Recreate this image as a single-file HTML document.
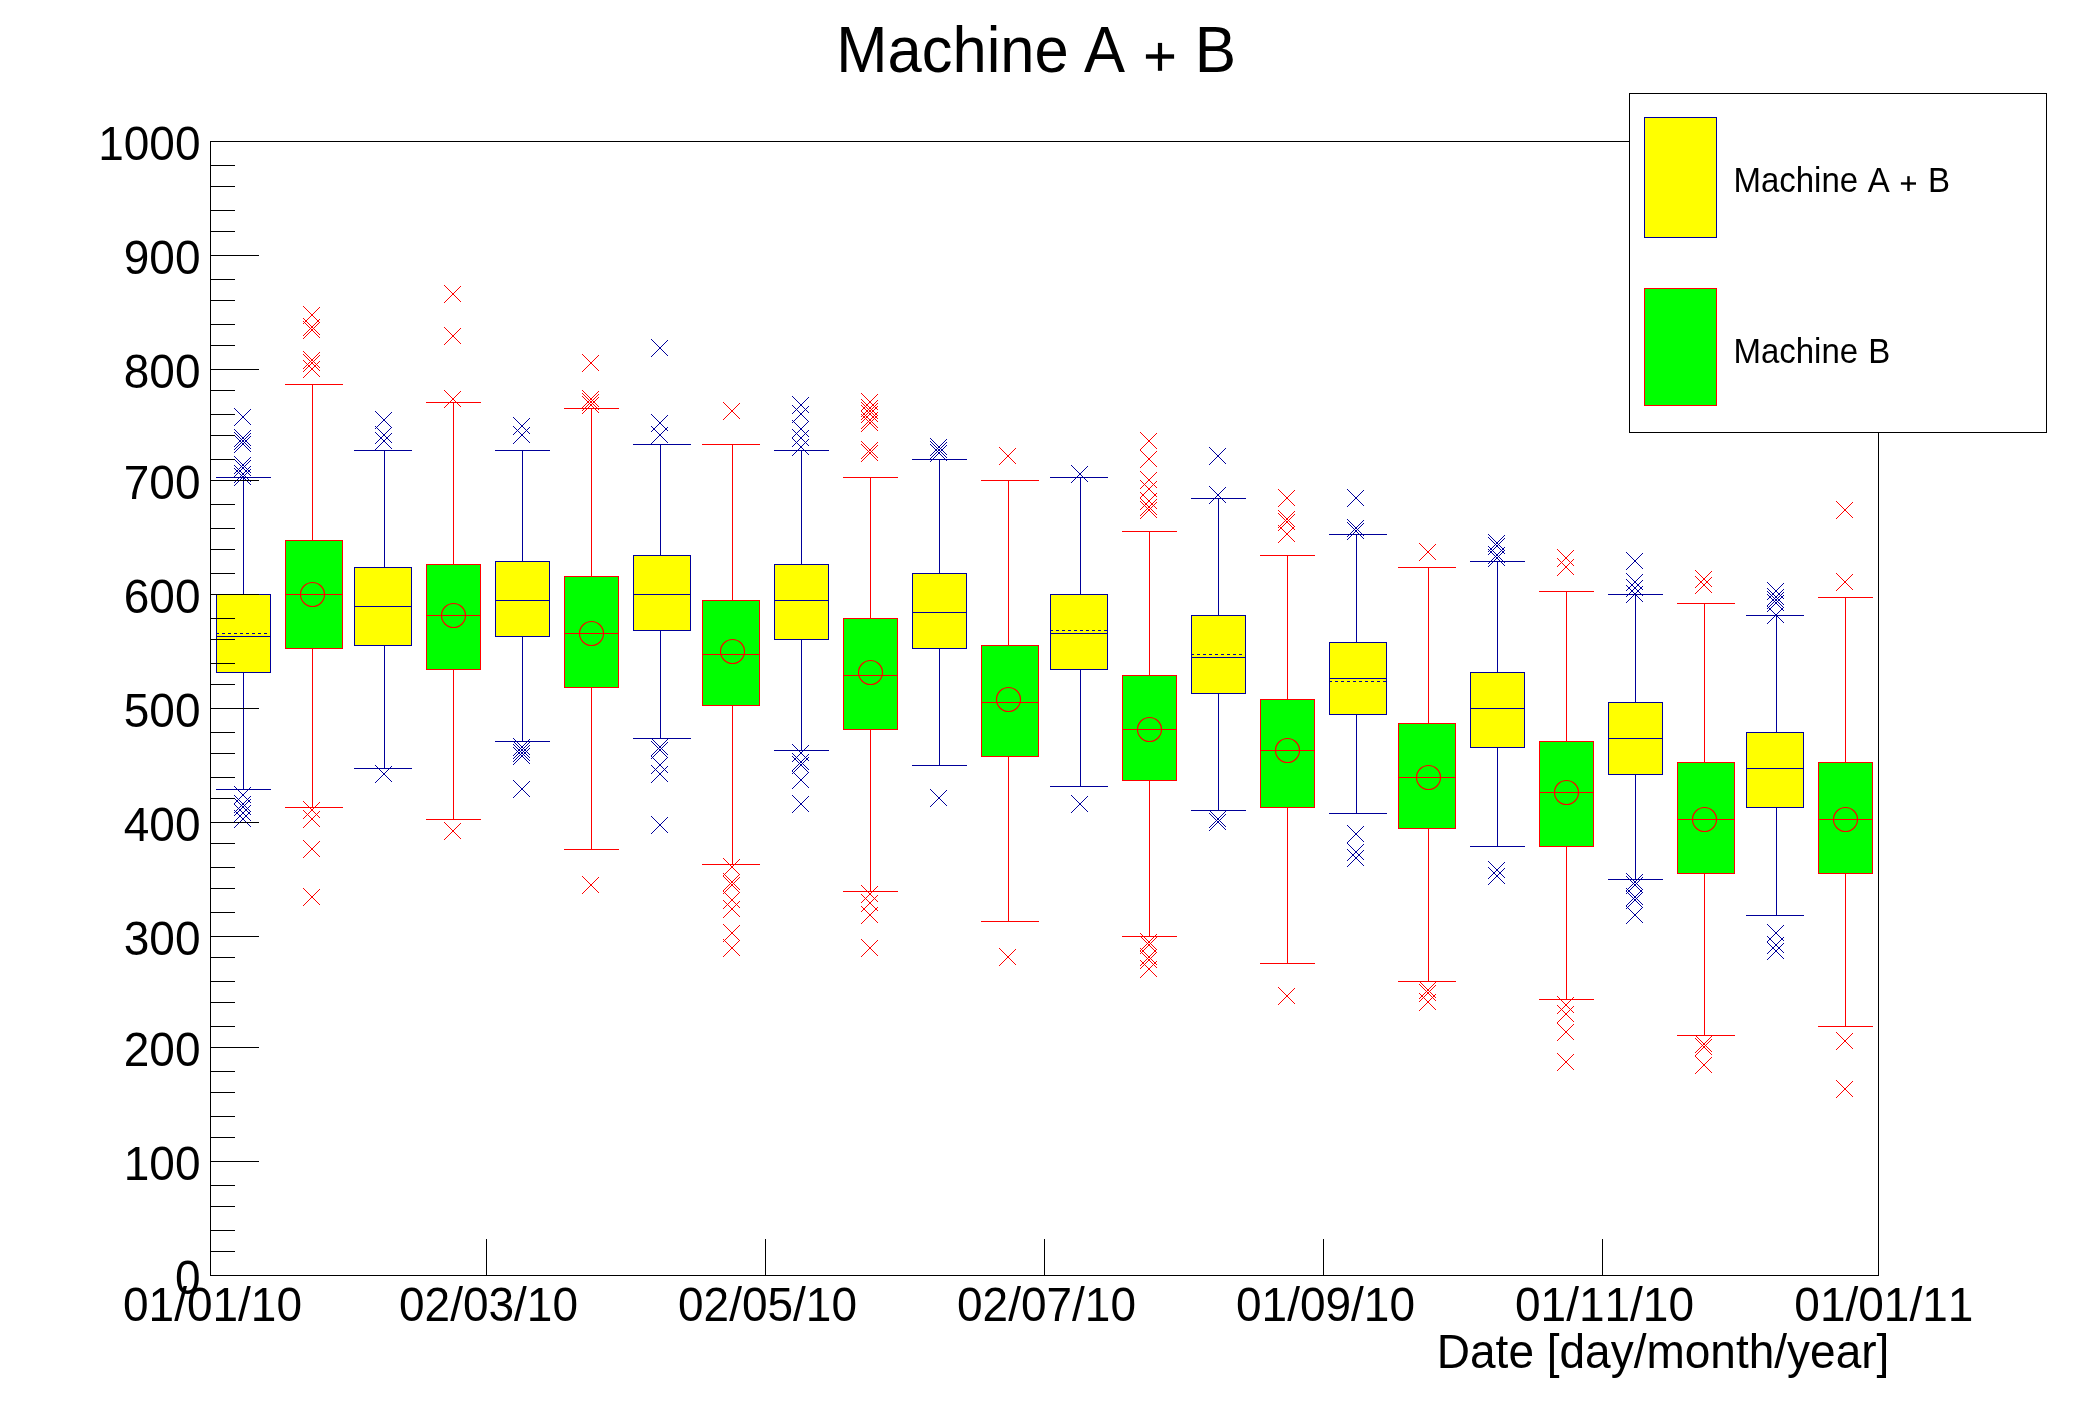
<!DOCTYPE html>
<html><head><meta charset="utf-8"><title>Machine A + B</title>
<style>
html,body{margin:0;padding:0;background:#ffffff;}
svg{display:block;}
text{font-family:"Liberation Sans",sans-serif;fill:#000000;font-kerning:none;font-feature-settings:"kern" 0;}
</style></head>
<body>
<svg width="2088" height="1416" viewBox="0 0 2088 1416">
<rect x="0" y="0" width="2088" height="1416" fill="#ffffff"/>
<g id="candles">
<rect x="216.5" y="594.5" width="54" height="78" fill="#ffff00" stroke="#000099" stroke-width="1" shape-rendering="crispEdges"/>
<rect x="216" y="636" width="55" height="1" fill="#000099"/>
<line x1="216" x2="270" y1="633.5" y2="633.5" stroke="#000099" stroke-width="1" stroke-dasharray="3 3" shape-rendering="crispEdges"/>
<rect x="243" y="477" width="1" height="118" fill="#000099"/>
<rect x="243" y="672" width="1" height="118" fill="#000099"/>
<rect x="216" y="477" width="55" height="1" fill="#000099"/>
<rect x="216" y="789" width="55" height="1" fill="#000099"/>
<path d="M234.0 408.0L251.0 425.0M234.0 426.0L251.0 409.0" stroke="#000099" stroke-width="1" fill="none"/>
<path d="M234.0 429.0L251.0 446.0M234.0 447.0L251.0 430.0" stroke="#000099" stroke-width="1" fill="none"/>
<path d="M234.0 432.0L251.0 449.0M234.0 450.0L251.0 433.0" stroke="#000099" stroke-width="1" fill="none"/>
<path d="M234.0 435.0L251.0 452.0M234.0 453.0L251.0 436.0" stroke="#000099" stroke-width="1" fill="none"/>
<path d="M234.0 456.0L251.0 473.0M234.0 474.0L251.0 457.0" stroke="#000099" stroke-width="1" fill="none"/>
<path d="M234.0 459.0L251.0 476.0M234.0 477.0L251.0 460.0" stroke="#000099" stroke-width="1" fill="none"/>
<path d="M234.0 465.0L251.0 482.0M234.0 483.0L251.0 466.0" stroke="#000099" stroke-width="1" fill="none"/>
<path d="M234.0 468.0L251.0 485.0M234.0 486.0L251.0 469.0" stroke="#000099" stroke-width="1" fill="none"/>
<path d="M234.0 786.0L251.0 803.0M234.0 804.0L251.0 787.0" stroke="#000099" stroke-width="1" fill="none"/>
<path d="M234.0 795.0L251.0 812.0M234.0 813.0L251.0 796.0" stroke="#000099" stroke-width="1" fill="none"/>
<path d="M234.0 798.0L251.0 815.0M234.0 816.0L251.0 799.0" stroke="#000099" stroke-width="1" fill="none"/>
<path d="M234.0 804.0L251.0 821.0M234.0 822.0L251.0 805.0" stroke="#000099" stroke-width="1" fill="none"/>
<path d="M234.0 810.0L251.0 827.0M234.0 828.0L251.0 811.0" stroke="#000099" stroke-width="1" fill="none"/>
<rect x="354.5" y="567.5" width="57" height="78" fill="#ffff00" stroke="#000099" stroke-width="1" shape-rendering="crispEdges"/>
<rect x="354" y="606" width="58" height="1" fill="#000099"/>
<rect x="384" y="450" width="1" height="118" fill="#000099"/>
<rect x="384" y="645" width="1" height="124" fill="#000099"/>
<rect x="354" y="450" width="58" height="1" fill="#000099"/>
<rect x="354" y="768" width="58" height="1" fill="#000099"/>
<path d="M375.0 411.0L392.0 428.0M375.0 429.0L392.0 412.0" stroke="#000099" stroke-width="1" fill="none"/>
<path d="M375.0 426.0L392.0 443.0M375.0 444.0L392.0 427.0" stroke="#000099" stroke-width="1" fill="none"/>
<path d="M375.0 432.0L392.0 449.0M375.0 450.0L392.0 433.0" stroke="#000099" stroke-width="1" fill="none"/>
<path d="M375.0 765.0L392.0 782.0M375.0 783.0L392.0 766.0" stroke="#000099" stroke-width="1" fill="none"/>
<rect x="495.5" y="561.5" width="54" height="75" fill="#ffff00" stroke="#000099" stroke-width="1" shape-rendering="crispEdges"/>
<rect x="495" y="600" width="55" height="1" fill="#000099"/>
<rect x="522" y="450" width="1" height="112" fill="#000099"/>
<rect x="522" y="636" width="1" height="106" fill="#000099"/>
<rect x="495" y="450" width="55" height="1" fill="#000099"/>
<rect x="495" y="741" width="55" height="1" fill="#000099"/>
<path d="M513.0 417.0L530.0 434.0M513.0 435.0L530.0 418.0" stroke="#000099" stroke-width="1" fill="none"/>
<path d="M513.0 426.0L530.0 443.0M513.0 444.0L530.0 427.0" stroke="#000099" stroke-width="1" fill="none"/>
<path d="M513.0 738.0L530.0 755.0M513.0 756.0L530.0 739.0" stroke="#000099" stroke-width="1" fill="none"/>
<path d="M513.0 741.0L530.0 758.0M513.0 759.0L530.0 742.0" stroke="#000099" stroke-width="1" fill="none"/>
<path d="M513.0 744.0L530.0 761.0M513.0 762.0L530.0 745.0" stroke="#000099" stroke-width="1" fill="none"/>
<path d="M513.0 747.0L530.0 764.0M513.0 765.0L530.0 748.0" stroke="#000099" stroke-width="1" fill="none"/>
<path d="M513.0 780.0L530.0 797.0M513.0 798.0L530.0 781.0" stroke="#000099" stroke-width="1" fill="none"/>
<rect x="633.5" y="555.5" width="57" height="75" fill="#ffff00" stroke="#000099" stroke-width="1" shape-rendering="crispEdges"/>
<rect x="633" y="594" width="58" height="1" fill="#000099"/>
<rect x="660" y="444" width="1" height="112" fill="#000099"/>
<rect x="660" y="630" width="1" height="109" fill="#000099"/>
<rect x="633" y="444" width="58" height="1" fill="#000099"/>
<rect x="633" y="738" width="58" height="1" fill="#000099"/>
<path d="M651.0 339.0L668.0 356.0M651.0 357.0L668.0 340.0" stroke="#000099" stroke-width="1" fill="none"/>
<path d="M651.0 414.0L668.0 431.0M651.0 432.0L668.0 415.0" stroke="#000099" stroke-width="1" fill="none"/>
<path d="M651.0 426.0L668.0 443.0M651.0 444.0L668.0 427.0" stroke="#000099" stroke-width="1" fill="none"/>
<path d="M651.0 738.0L668.0 755.0M651.0 756.0L668.0 739.0" stroke="#000099" stroke-width="1" fill="none"/>
<path d="M651.0 741.0L668.0 758.0M651.0 759.0L668.0 742.0" stroke="#000099" stroke-width="1" fill="none"/>
<path d="M651.0 756.0L668.0 773.0M651.0 774.0L668.0 757.0" stroke="#000099" stroke-width="1" fill="none"/>
<path d="M651.0 765.0L668.0 782.0M651.0 783.0L668.0 766.0" stroke="#000099" stroke-width="1" fill="none"/>
<path d="M651.0 816.0L668.0 833.0M651.0 834.0L668.0 817.0" stroke="#000099" stroke-width="1" fill="none"/>
<rect x="774.5" y="564.5" width="54" height="75" fill="#ffff00" stroke="#000099" stroke-width="1" shape-rendering="crispEdges"/>
<rect x="774" y="600" width="55" height="1" fill="#000099"/>
<rect x="801" y="450" width="1" height="115" fill="#000099"/>
<rect x="801" y="639" width="1" height="112" fill="#000099"/>
<rect x="774" y="450" width="55" height="1" fill="#000099"/>
<rect x="774" y="750" width="55" height="1" fill="#000099"/>
<path d="M792.0 396.0L809.0 413.0M792.0 414.0L809.0 397.0" stroke="#000099" stroke-width="1" fill="none"/>
<path d="M792.0 405.0L809.0 422.0M792.0 423.0L809.0 406.0" stroke="#000099" stroke-width="1" fill="none"/>
<path d="M792.0 420.0L809.0 437.0M792.0 438.0L809.0 421.0" stroke="#000099" stroke-width="1" fill="none"/>
<path d="M792.0 429.0L809.0 446.0M792.0 447.0L809.0 430.0" stroke="#000099" stroke-width="1" fill="none"/>
<path d="M792.0 438.0L809.0 455.0M792.0 456.0L809.0 439.0" stroke="#000099" stroke-width="1" fill="none"/>
<path d="M792.0 744.0L809.0 761.0M792.0 762.0L809.0 745.0" stroke="#000099" stroke-width="1" fill="none"/>
<path d="M792.0 753.0L809.0 770.0M792.0 771.0L809.0 754.0" stroke="#000099" stroke-width="1" fill="none"/>
<path d="M792.0 756.0L809.0 773.0M792.0 774.0L809.0 757.0" stroke="#000099" stroke-width="1" fill="none"/>
<path d="M792.0 771.0L809.0 788.0M792.0 789.0L809.0 772.0" stroke="#000099" stroke-width="1" fill="none"/>
<path d="M792.0 795.0L809.0 812.0M792.0 813.0L809.0 796.0" stroke="#000099" stroke-width="1" fill="none"/>
<rect x="912.5" y="573.5" width="54" height="75" fill="#ffff00" stroke="#000099" stroke-width="1" shape-rendering="crispEdges"/>
<rect x="912" y="612" width="55" height="1" fill="#000099"/>
<rect x="939" y="459" width="1" height="115" fill="#000099"/>
<rect x="939" y="648" width="1" height="118" fill="#000099"/>
<rect x="912" y="459" width="55" height="1" fill="#000099"/>
<rect x="912" y="765" width="55" height="1" fill="#000099"/>
<path d="M930.0 438.0L947.0 455.0M930.0 456.0L947.0 439.0" stroke="#000099" stroke-width="1" fill="none"/>
<path d="M930.0 441.0L947.0 458.0M930.0 459.0L947.0 442.0" stroke="#000099" stroke-width="1" fill="none"/>
<path d="M930.0 444.0L947.0 461.0M930.0 462.0L947.0 445.0" stroke="#000099" stroke-width="1" fill="none"/>
<path d="M930.0 789.0L947.0 806.0M930.0 807.0L947.0 790.0" stroke="#000099" stroke-width="1" fill="none"/>
<rect x="1050.5" y="594.5" width="57" height="75" fill="#ffff00" stroke="#000099" stroke-width="1" shape-rendering="crispEdges"/>
<rect x="1050" y="633" width="58" height="1" fill="#000099"/>
<line x1="1050" x2="1107" y1="630.5" y2="630.5" stroke="#000099" stroke-width="1" stroke-dasharray="3 3" shape-rendering="crispEdges"/>
<rect x="1080" y="477" width="1" height="118" fill="#000099"/>
<rect x="1080" y="669" width="1" height="118" fill="#000099"/>
<rect x="1050" y="477" width="58" height="1" fill="#000099"/>
<rect x="1050" y="786" width="58" height="1" fill="#000099"/>
<path d="M1071.0 465.0L1088.0 482.0M1071.0 483.0L1088.0 466.0" stroke="#000099" stroke-width="1" fill="none"/>
<path d="M1071.0 795.0L1088.0 812.0M1071.0 813.0L1088.0 796.0" stroke="#000099" stroke-width="1" fill="none"/>
<rect x="1191.5" y="615.5" width="54" height="78" fill="#ffff00" stroke="#000099" stroke-width="1" shape-rendering="crispEdges"/>
<rect x="1191" y="657" width="55" height="1" fill="#000099"/>
<line x1="1191" x2="1245" y1="654.5" y2="654.5" stroke="#000099" stroke-width="1" stroke-dasharray="3 3" shape-rendering="crispEdges"/>
<rect x="1218" y="498" width="1" height="118" fill="#000099"/>
<rect x="1218" y="693" width="1" height="118" fill="#000099"/>
<rect x="1191" y="498" width="55" height="1" fill="#000099"/>
<rect x="1191" y="810" width="55" height="1" fill="#000099"/>
<path d="M1209.0 447.0L1226.0 464.0M1209.0 465.0L1226.0 448.0" stroke="#000099" stroke-width="1" fill="none"/>
<path d="M1209.0 486.0L1226.0 503.0M1209.0 504.0L1226.0 487.0" stroke="#000099" stroke-width="1" fill="none"/>
<path d="M1209.0 810.0L1226.0 827.0M1209.0 828.0L1226.0 811.0" stroke="#000099" stroke-width="1" fill="none"/>
<path d="M1209.0 813.0L1226.0 830.0M1209.0 831.0L1226.0 814.0" stroke="#000099" stroke-width="1" fill="none"/>
<rect x="1329.5" y="642.5" width="57" height="72" fill="#ffff00" stroke="#000099" stroke-width="1" shape-rendering="crispEdges"/>
<rect x="1329" y="678" width="58" height="1" fill="#000099"/>
<line x1="1329" x2="1386" y1="681.5" y2="681.5" stroke="#000099" stroke-width="1" stroke-dasharray="3 3" shape-rendering="crispEdges"/>
<rect x="1356" y="534" width="1" height="109" fill="#000099"/>
<rect x="1356" y="714" width="1" height="100" fill="#000099"/>
<rect x="1329" y="534" width="58" height="1" fill="#000099"/>
<rect x="1329" y="813" width="58" height="1" fill="#000099"/>
<path d="M1347.0 489.0L1364.0 506.0M1347.0 507.0L1364.0 490.0" stroke="#000099" stroke-width="1" fill="none"/>
<path d="M1347.0 519.0L1364.0 536.0M1347.0 537.0L1364.0 520.0" stroke="#000099" stroke-width="1" fill="none"/>
<path d="M1347.0 522.0L1364.0 539.0M1347.0 540.0L1364.0 523.0" stroke="#000099" stroke-width="1" fill="none"/>
<path d="M1347.0 825.0L1364.0 842.0M1347.0 843.0L1364.0 826.0" stroke="#000099" stroke-width="1" fill="none"/>
<path d="M1347.0 843.0L1364.0 860.0M1347.0 861.0L1364.0 844.0" stroke="#000099" stroke-width="1" fill="none"/>
<path d="M1347.0 849.0L1364.0 866.0M1347.0 867.0L1364.0 850.0" stroke="#000099" stroke-width="1" fill="none"/>
<rect x="1470.5" y="672.5" width="54" height="75" fill="#ffff00" stroke="#000099" stroke-width="1" shape-rendering="crispEdges"/>
<rect x="1470" y="708" width="55" height="1" fill="#000099"/>
<rect x="1497" y="561" width="1" height="112" fill="#000099"/>
<rect x="1497" y="747" width="1" height="100" fill="#000099"/>
<rect x="1470" y="561" width="55" height="1" fill="#000099"/>
<rect x="1470" y="846" width="55" height="1" fill="#000099"/>
<path d="M1488.0 534.0L1505.0 551.0M1488.0 552.0L1505.0 535.0" stroke="#000099" stroke-width="1" fill="none"/>
<path d="M1488.0 537.0L1505.0 554.0M1488.0 555.0L1505.0 538.0" stroke="#000099" stroke-width="1" fill="none"/>
<path d="M1488.0 546.0L1505.0 563.0M1488.0 564.0L1505.0 547.0" stroke="#000099" stroke-width="1" fill="none"/>
<path d="M1488.0 549.0L1505.0 566.0M1488.0 567.0L1505.0 550.0" stroke="#000099" stroke-width="1" fill="none"/>
<path d="M1488.0 861.0L1505.0 878.0M1488.0 879.0L1505.0 862.0" stroke="#000099" stroke-width="1" fill="none"/>
<path d="M1488.0 867.0L1505.0 884.0M1488.0 885.0L1505.0 868.0" stroke="#000099" stroke-width="1" fill="none"/>
<rect x="1608.5" y="702.5" width="54" height="72" fill="#ffff00" stroke="#000099" stroke-width="1" shape-rendering="crispEdges"/>
<rect x="1608" y="738" width="55" height="1" fill="#000099"/>
<rect x="1635" y="594" width="1" height="109" fill="#000099"/>
<rect x="1635" y="774" width="1" height="106" fill="#000099"/>
<rect x="1608" y="594" width="55" height="1" fill="#000099"/>
<rect x="1608" y="879" width="55" height="1" fill="#000099"/>
<path d="M1626.0 552.0L1643.0 569.0M1626.0 570.0L1643.0 553.0" stroke="#000099" stroke-width="1" fill="none"/>
<path d="M1626.0 573.0L1643.0 590.0M1626.0 591.0L1643.0 574.0" stroke="#000099" stroke-width="1" fill="none"/>
<path d="M1626.0 579.0L1643.0 596.0M1626.0 597.0L1643.0 580.0" stroke="#000099" stroke-width="1" fill="none"/>
<path d="M1626.0 585.0L1643.0 602.0M1626.0 603.0L1643.0 586.0" stroke="#000099" stroke-width="1" fill="none"/>
<path d="M1626.0 873.0L1643.0 890.0M1626.0 891.0L1643.0 874.0" stroke="#000099" stroke-width="1" fill="none"/>
<path d="M1626.0 876.0L1643.0 893.0M1626.0 894.0L1643.0 877.0" stroke="#000099" stroke-width="1" fill="none"/>
<path d="M1626.0 888.0L1643.0 905.0M1626.0 906.0L1643.0 889.0" stroke="#000099" stroke-width="1" fill="none"/>
<path d="M1626.0 891.0L1643.0 908.0M1626.0 909.0L1643.0 892.0" stroke="#000099" stroke-width="1" fill="none"/>
<path d="M1626.0 906.0L1643.0 923.0M1626.0 924.0L1643.0 907.0" stroke="#000099" stroke-width="1" fill="none"/>
<rect x="1746.5" y="732.5" width="57" height="75" fill="#ffff00" stroke="#000099" stroke-width="1" shape-rendering="crispEdges"/>
<rect x="1746" y="768" width="58" height="1" fill="#000099"/>
<rect x="1776" y="615" width="1" height="118" fill="#000099"/>
<rect x="1776" y="807" width="1" height="109" fill="#000099"/>
<rect x="1746" y="615" width="58" height="1" fill="#000099"/>
<rect x="1746" y="915" width="58" height="1" fill="#000099"/>
<path d="M1767.0 582.0L1784.0 599.0M1767.0 600.0L1784.0 583.0" stroke="#000099" stroke-width="1" fill="none"/>
<path d="M1767.0 588.0L1784.0 605.0M1767.0 606.0L1784.0 589.0" stroke="#000099" stroke-width="1" fill="none"/>
<path d="M1767.0 591.0L1784.0 608.0M1767.0 609.0L1784.0 592.0" stroke="#000099" stroke-width="1" fill="none"/>
<path d="M1767.0 594.0L1784.0 611.0M1767.0 612.0L1784.0 595.0" stroke="#000099" stroke-width="1" fill="none"/>
<path d="M1767.0 606.0L1784.0 623.0M1767.0 624.0L1784.0 607.0" stroke="#000099" stroke-width="1" fill="none"/>
<path d="M1767.0 924.0L1784.0 941.0M1767.0 942.0L1784.0 925.0" stroke="#000099" stroke-width="1" fill="none"/>
<path d="M1767.0 936.0L1784.0 953.0M1767.0 954.0L1784.0 937.0" stroke="#000099" stroke-width="1" fill="none"/>
<path d="M1767.0 942.0L1784.0 959.0M1767.0 960.0L1784.0 943.0" stroke="#000099" stroke-width="1" fill="none"/>
<rect x="285.5" y="540.5" width="57" height="108" fill="#00ff00" stroke="#ff0000" stroke-width="1" shape-rendering="crispEdges"/>
<rect x="285" y="594" width="58" height="1" fill="#ff0000"/>
<circle cx="312.5" cy="594.5" r="12" fill="none" stroke="#ff0000" stroke-width="1.15"/>
<rect x="312" y="384" width="1" height="157" fill="#ff0000"/>
<rect x="312" y="648" width="1" height="160" fill="#ff0000"/>
<rect x="285" y="384" width="58" height="1" fill="#ff0000"/>
<rect x="285" y="807" width="58" height="1" fill="#ff0000"/>
<path d="M303.0 306.0L320.0 323.0M303.0 324.0L320.0 307.0" stroke="#ff0000" stroke-width="1" fill="none"/>
<path d="M303.0 318.0L320.0 335.0M303.0 336.0L320.0 319.0" stroke="#ff0000" stroke-width="1" fill="none"/>
<path d="M303.0 321.0L320.0 338.0M303.0 339.0L320.0 322.0" stroke="#ff0000" stroke-width="1" fill="none"/>
<path d="M303.0 351.0L320.0 368.0M303.0 369.0L320.0 352.0" stroke="#ff0000" stroke-width="1" fill="none"/>
<path d="M303.0 354.0L320.0 371.0M303.0 372.0L320.0 355.0" stroke="#ff0000" stroke-width="1" fill="none"/>
<path d="M303.0 360.0L320.0 377.0M303.0 378.0L320.0 361.0" stroke="#ff0000" stroke-width="1" fill="none"/>
<path d="M303.0 801.0L320.0 818.0M303.0 819.0L320.0 802.0" stroke="#ff0000" stroke-width="1" fill="none"/>
<path d="M303.0 810.0L320.0 827.0M303.0 828.0L320.0 811.0" stroke="#ff0000" stroke-width="1" fill="none"/>
<path d="M303.0 840.0L320.0 857.0M303.0 858.0L320.0 841.0" stroke="#ff0000" stroke-width="1" fill="none"/>
<path d="M303.0 888.0L320.0 905.0M303.0 906.0L320.0 889.0" stroke="#ff0000" stroke-width="1" fill="none"/>
<rect x="426.5" y="564.5" width="54" height="105" fill="#00ff00" stroke="#ff0000" stroke-width="1" shape-rendering="crispEdges"/>
<rect x="426" y="615" width="55" height="1" fill="#ff0000"/>
<circle cx="453.5" cy="615.5" r="12" fill="none" stroke="#ff0000" stroke-width="1.15"/>
<rect x="453" y="402" width="1" height="163" fill="#ff0000"/>
<rect x="453" y="669" width="1" height="151" fill="#ff0000"/>
<rect x="426" y="402" width="55" height="1" fill="#ff0000"/>
<rect x="426" y="819" width="55" height="1" fill="#ff0000"/>
<path d="M444.0 285.0L461.0 302.0M444.0 303.0L461.0 286.0" stroke="#ff0000" stroke-width="1" fill="none"/>
<path d="M444.0 327.0L461.0 344.0M444.0 345.0L461.0 328.0" stroke="#ff0000" stroke-width="1" fill="none"/>
<path d="M444.0 390.0L461.0 407.0M444.0 408.0L461.0 391.0" stroke="#ff0000" stroke-width="1" fill="none"/>
<path d="M444.0 822.0L461.0 839.0M444.0 840.0L461.0 823.0" stroke="#ff0000" stroke-width="1" fill="none"/>
<rect x="564.5" y="576.5" width="54" height="111" fill="#00ff00" stroke="#ff0000" stroke-width="1" shape-rendering="crispEdges"/>
<rect x="564" y="633" width="55" height="1" fill="#ff0000"/>
<circle cx="591.5" cy="633.5" r="12" fill="none" stroke="#ff0000" stroke-width="1.15"/>
<rect x="591" y="408" width="1" height="169" fill="#ff0000"/>
<rect x="591" y="687" width="1" height="163" fill="#ff0000"/>
<rect x="564" y="408" width="55" height="1" fill="#ff0000"/>
<rect x="564" y="849" width="55" height="1" fill="#ff0000"/>
<path d="M582.0 354.0L599.0 371.0M582.0 372.0L599.0 355.0" stroke="#ff0000" stroke-width="1" fill="none"/>
<path d="M582.0 390.0L599.0 407.0M582.0 408.0L599.0 391.0" stroke="#ff0000" stroke-width="1" fill="none"/>
<path d="M582.0 393.0L599.0 410.0M582.0 411.0L599.0 394.0" stroke="#ff0000" stroke-width="1" fill="none"/>
<path d="M582.0 396.0L599.0 413.0M582.0 414.0L599.0 397.0" stroke="#ff0000" stroke-width="1" fill="none"/>
<path d="M582.0 876.0L599.0 893.0M582.0 894.0L599.0 877.0" stroke="#ff0000" stroke-width="1" fill="none"/>
<rect x="702.5" y="600.5" width="57" height="105" fill="#00ff00" stroke="#ff0000" stroke-width="1" shape-rendering="crispEdges"/>
<rect x="702" y="654" width="58" height="1" fill="#ff0000"/>
<circle cx="732.5" cy="651.5" r="12" fill="none" stroke="#ff0000" stroke-width="1.15"/>
<rect x="732" y="444" width="1" height="157" fill="#ff0000"/>
<rect x="732" y="705" width="1" height="160" fill="#ff0000"/>
<rect x="702" y="444" width="58" height="1" fill="#ff0000"/>
<rect x="702" y="864" width="58" height="1" fill="#ff0000"/>
<path d="M723.0 402.0L740.0 419.0M723.0 420.0L740.0 403.0" stroke="#ff0000" stroke-width="1" fill="none"/>
<path d="M723.0 858.0L740.0 875.0M723.0 876.0L740.0 859.0" stroke="#ff0000" stroke-width="1" fill="none"/>
<path d="M723.0 873.0L740.0 890.0M723.0 891.0L740.0 874.0" stroke="#ff0000" stroke-width="1" fill="none"/>
<path d="M723.0 876.0L740.0 893.0M723.0 894.0L740.0 877.0" stroke="#ff0000" stroke-width="1" fill="none"/>
<path d="M723.0 891.0L740.0 908.0M723.0 909.0L740.0 892.0" stroke="#ff0000" stroke-width="1" fill="none"/>
<path d="M723.0 900.0L740.0 917.0M723.0 918.0L740.0 901.0" stroke="#ff0000" stroke-width="1" fill="none"/>
<path d="M723.0 924.0L740.0 941.0M723.0 942.0L740.0 925.0" stroke="#ff0000" stroke-width="1" fill="none"/>
<path d="M723.0 939.0L740.0 956.0M723.0 957.0L740.0 940.0" stroke="#ff0000" stroke-width="1" fill="none"/>
<rect x="843.5" y="618.5" width="54" height="111" fill="#00ff00" stroke="#ff0000" stroke-width="1" shape-rendering="crispEdges"/>
<rect x="843" y="675" width="55" height="1" fill="#ff0000"/>
<circle cx="870.5" cy="672.5" r="12" fill="none" stroke="#ff0000" stroke-width="1.15"/>
<rect x="870" y="477" width="1" height="142" fill="#ff0000"/>
<rect x="870" y="729" width="1" height="163" fill="#ff0000"/>
<rect x="843" y="477" width="55" height="1" fill="#ff0000"/>
<rect x="843" y="891" width="55" height="1" fill="#ff0000"/>
<path d="M861.0 393.0L878.0 410.0M861.0 411.0L878.0 394.0" stroke="#ff0000" stroke-width="1" fill="none"/>
<path d="M861.0 399.0L878.0 416.0M861.0 417.0L878.0 400.0" stroke="#ff0000" stroke-width="1" fill="none"/>
<path d="M861.0 402.0L878.0 419.0M861.0 420.0L878.0 403.0" stroke="#ff0000" stroke-width="1" fill="none"/>
<path d="M861.0 405.0L878.0 422.0M861.0 423.0L878.0 406.0" stroke="#ff0000" stroke-width="1" fill="none"/>
<path d="M861.0 411.0L878.0 428.0M861.0 429.0L878.0 412.0" stroke="#ff0000" stroke-width="1" fill="none"/>
<path d="M861.0 414.0L878.0 431.0M861.0 432.0L878.0 415.0" stroke="#ff0000" stroke-width="1" fill="none"/>
<path d="M861.0 441.0L878.0 458.0M861.0 459.0L878.0 442.0" stroke="#ff0000" stroke-width="1" fill="none"/>
<path d="M861.0 444.0L878.0 461.0M861.0 462.0L878.0 445.0" stroke="#ff0000" stroke-width="1" fill="none"/>
<path d="M861.0 885.0L878.0 902.0M861.0 903.0L878.0 886.0" stroke="#ff0000" stroke-width="1" fill="none"/>
<path d="M861.0 894.0L878.0 911.0M861.0 912.0L878.0 895.0" stroke="#ff0000" stroke-width="1" fill="none"/>
<path d="M861.0 906.0L878.0 923.0M861.0 924.0L878.0 907.0" stroke="#ff0000" stroke-width="1" fill="none"/>
<path d="M861.0 939.0L878.0 956.0M861.0 957.0L878.0 940.0" stroke="#ff0000" stroke-width="1" fill="none"/>
<rect x="981.5" y="645.5" width="57" height="111" fill="#00ff00" stroke="#ff0000" stroke-width="1" shape-rendering="crispEdges"/>
<rect x="981" y="702" width="58" height="1" fill="#ff0000"/>
<circle cx="1008.5" cy="699.5" r="12" fill="none" stroke="#ff0000" stroke-width="1.15"/>
<rect x="1008" y="480" width="1" height="166" fill="#ff0000"/>
<rect x="1008" y="756" width="1" height="166" fill="#ff0000"/>
<rect x="981" y="480" width="58" height="1" fill="#ff0000"/>
<rect x="981" y="921" width="58" height="1" fill="#ff0000"/>
<path d="M999.0 447.0L1016.0 464.0M999.0 465.0L1016.0 448.0" stroke="#ff0000" stroke-width="1" fill="none"/>
<path d="M999.0 948.0L1016.0 965.0M999.0 966.0L1016.0 949.0" stroke="#ff0000" stroke-width="1" fill="none"/>
<rect x="1122.5" y="675.5" width="54" height="105" fill="#00ff00" stroke="#ff0000" stroke-width="1" shape-rendering="crispEdges"/>
<rect x="1122" y="729" width="55" height="1" fill="#ff0000"/>
<circle cx="1149.5" cy="729.5" r="12" fill="none" stroke="#ff0000" stroke-width="1.15"/>
<rect x="1149" y="531" width="1" height="145" fill="#ff0000"/>
<rect x="1149" y="780" width="1" height="157" fill="#ff0000"/>
<rect x="1122" y="531" width="55" height="1" fill="#ff0000"/>
<rect x="1122" y="936" width="55" height="1" fill="#ff0000"/>
<path d="M1140.0 432.0L1157.0 449.0M1140.0 450.0L1157.0 433.0" stroke="#ff0000" stroke-width="1" fill="none"/>
<path d="M1140.0 450.0L1157.0 467.0M1140.0 468.0L1157.0 451.0" stroke="#ff0000" stroke-width="1" fill="none"/>
<path d="M1140.0 471.0L1157.0 488.0M1140.0 489.0L1157.0 472.0" stroke="#ff0000" stroke-width="1" fill="none"/>
<path d="M1140.0 480.0L1157.0 497.0M1140.0 498.0L1157.0 481.0" stroke="#ff0000" stroke-width="1" fill="none"/>
<path d="M1140.0 492.0L1157.0 509.0M1140.0 510.0L1157.0 493.0" stroke="#ff0000" stroke-width="1" fill="none"/>
<path d="M1140.0 498.0L1157.0 515.0M1140.0 516.0L1157.0 499.0" stroke="#ff0000" stroke-width="1" fill="none"/>
<path d="M1140.0 501.0L1157.0 518.0M1140.0 519.0L1157.0 502.0" stroke="#ff0000" stroke-width="1" fill="none"/>
<path d="M1140.0 933.0L1157.0 950.0M1140.0 951.0L1157.0 934.0" stroke="#ff0000" stroke-width="1" fill="none"/>
<path d="M1140.0 936.0L1157.0 953.0M1140.0 954.0L1157.0 937.0" stroke="#ff0000" stroke-width="1" fill="none"/>
<path d="M1140.0 948.0L1157.0 965.0M1140.0 966.0L1157.0 949.0" stroke="#ff0000" stroke-width="1" fill="none"/>
<path d="M1140.0 951.0L1157.0 968.0M1140.0 969.0L1157.0 952.0" stroke="#ff0000" stroke-width="1" fill="none"/>
<path d="M1140.0 960.0L1157.0 977.0M1140.0 978.0L1157.0 961.0" stroke="#ff0000" stroke-width="1" fill="none"/>
<rect x="1260.5" y="699.5" width="54" height="108" fill="#00ff00" stroke="#ff0000" stroke-width="1" shape-rendering="crispEdges"/>
<rect x="1260" y="750" width="55" height="1" fill="#ff0000"/>
<circle cx="1287.5" cy="750.5" r="12" fill="none" stroke="#ff0000" stroke-width="1.15"/>
<rect x="1287" y="555" width="1" height="145" fill="#ff0000"/>
<rect x="1287" y="807" width="1" height="157" fill="#ff0000"/>
<rect x="1260" y="555" width="55" height="1" fill="#ff0000"/>
<rect x="1260" y="963" width="55" height="1" fill="#ff0000"/>
<path d="M1278.0 489.0L1295.0 506.0M1278.0 507.0L1295.0 490.0" stroke="#ff0000" stroke-width="1" fill="none"/>
<path d="M1278.0 510.0L1295.0 527.0M1278.0 528.0L1295.0 511.0" stroke="#ff0000" stroke-width="1" fill="none"/>
<path d="M1278.0 513.0L1295.0 530.0M1278.0 531.0L1295.0 514.0" stroke="#ff0000" stroke-width="1" fill="none"/>
<path d="M1278.0 525.0L1295.0 542.0M1278.0 543.0L1295.0 526.0" stroke="#ff0000" stroke-width="1" fill="none"/>
<path d="M1278.0 987.0L1295.0 1004.0M1278.0 1005.0L1295.0 988.0" stroke="#ff0000" stroke-width="1" fill="none"/>
<rect x="1398.5" y="723.5" width="57" height="105" fill="#00ff00" stroke="#ff0000" stroke-width="1" shape-rendering="crispEdges"/>
<rect x="1398" y="777" width="58" height="1" fill="#ff0000"/>
<circle cx="1428.5" cy="777.5" r="12" fill="none" stroke="#ff0000" stroke-width="1.15"/>
<rect x="1428" y="567" width="1" height="157" fill="#ff0000"/>
<rect x="1428" y="828" width="1" height="154" fill="#ff0000"/>
<rect x="1398" y="567" width="58" height="1" fill="#ff0000"/>
<rect x="1398" y="981" width="58" height="1" fill="#ff0000"/>
<path d="M1419.0 543.0L1436.0 560.0M1419.0 561.0L1436.0 544.0" stroke="#ff0000" stroke-width="1" fill="none"/>
<path d="M1419.0 981.0L1436.0 998.0M1419.0 999.0L1436.0 982.0" stroke="#ff0000" stroke-width="1" fill="none"/>
<path d="M1419.0 984.0L1436.0 1001.0M1419.0 1002.0L1436.0 985.0" stroke="#ff0000" stroke-width="1" fill="none"/>
<path d="M1419.0 993.0L1436.0 1010.0M1419.0 1011.0L1436.0 994.0" stroke="#ff0000" stroke-width="1" fill="none"/>
<rect x="1539.5" y="741.5" width="54" height="105" fill="#00ff00" stroke="#ff0000" stroke-width="1" shape-rendering="crispEdges"/>
<rect x="1539" y="792" width="55" height="1" fill="#ff0000"/>
<circle cx="1566.5" cy="792.5" r="12" fill="none" stroke="#ff0000" stroke-width="1.15"/>
<rect x="1566" y="591" width="1" height="151" fill="#ff0000"/>
<rect x="1566" y="846" width="1" height="154" fill="#ff0000"/>
<rect x="1539" y="591" width="55" height="1" fill="#ff0000"/>
<rect x="1539" y="999" width="55" height="1" fill="#ff0000"/>
<path d="M1557.0 549.0L1574.0 566.0M1557.0 567.0L1574.0 550.0" stroke="#ff0000" stroke-width="1" fill="none"/>
<path d="M1557.0 558.0L1574.0 575.0M1557.0 576.0L1574.0 559.0" stroke="#ff0000" stroke-width="1" fill="none"/>
<path d="M1557.0 996.0L1574.0 1013.0M1557.0 1014.0L1574.0 997.0" stroke="#ff0000" stroke-width="1" fill="none"/>
<path d="M1557.0 1005.0L1574.0 1022.0M1557.0 1023.0L1574.0 1006.0" stroke="#ff0000" stroke-width="1" fill="none"/>
<path d="M1557.0 1023.0L1574.0 1040.0M1557.0 1041.0L1574.0 1024.0" stroke="#ff0000" stroke-width="1" fill="none"/>
<path d="M1557.0 1053.0L1574.0 1070.0M1557.0 1071.0L1574.0 1054.0" stroke="#ff0000" stroke-width="1" fill="none"/>
<rect x="1677.5" y="762.5" width="57" height="111" fill="#00ff00" stroke="#ff0000" stroke-width="1" shape-rendering="crispEdges"/>
<rect x="1677" y="819" width="58" height="1" fill="#ff0000"/>
<circle cx="1704.5" cy="819.5" r="12" fill="none" stroke="#ff0000" stroke-width="1.15"/>
<rect x="1704" y="603" width="1" height="160" fill="#ff0000"/>
<rect x="1704" y="873" width="1" height="163" fill="#ff0000"/>
<rect x="1677" y="603" width="58" height="1" fill="#ff0000"/>
<rect x="1677" y="1035" width="58" height="1" fill="#ff0000"/>
<path d="M1695.0 570.0L1712.0 587.0M1695.0 588.0L1712.0 571.0" stroke="#ff0000" stroke-width="1" fill="none"/>
<path d="M1695.0 576.0L1712.0 593.0M1695.0 594.0L1712.0 577.0" stroke="#ff0000" stroke-width="1" fill="none"/>
<path d="M1695.0 1035.0L1712.0 1052.0M1695.0 1053.0L1712.0 1036.0" stroke="#ff0000" stroke-width="1" fill="none"/>
<path d="M1695.0 1038.0L1712.0 1055.0M1695.0 1056.0L1712.0 1039.0" stroke="#ff0000" stroke-width="1" fill="none"/>
<path d="M1695.0 1056.0L1712.0 1073.0M1695.0 1074.0L1712.0 1057.0" stroke="#ff0000" stroke-width="1" fill="none"/>
<rect x="1818.5" y="762.5" width="54" height="111" fill="#00ff00" stroke="#ff0000" stroke-width="1" shape-rendering="crispEdges"/>
<rect x="1818" y="819" width="55" height="1" fill="#ff0000"/>
<circle cx="1845.5" cy="819.5" r="12" fill="none" stroke="#ff0000" stroke-width="1.15"/>
<rect x="1845" y="597" width="1" height="166" fill="#ff0000"/>
<rect x="1845" y="873" width="1" height="154" fill="#ff0000"/>
<rect x="1818" y="597" width="55" height="1" fill="#ff0000"/>
<rect x="1818" y="1026" width="55" height="1" fill="#ff0000"/>
<path d="M1836.0 501.0L1853.0 518.0M1836.0 519.0L1853.0 502.0" stroke="#ff0000" stroke-width="1" fill="none"/>
<path d="M1836.0 573.0L1853.0 590.0M1836.0 591.0L1853.0 574.0" stroke="#ff0000" stroke-width="1" fill="none"/>
<path d="M1836.0 1032.0L1853.0 1049.0M1836.0 1050.0L1853.0 1033.0" stroke="#ff0000" stroke-width="1" fill="none"/>
<path d="M1836.0 1080.0L1853.0 1097.0M1836.0 1098.0L1853.0 1081.0" stroke="#ff0000" stroke-width="1" fill="none"/>
</g>
<g id="axes">
<rect x="210" y="141" width="1669" height="1" fill="#000000"/>
<rect x="210" y="1275" width="1669" height="1" fill="#000000"/>
<rect x="210" y="141" width="1" height="1135" fill="#000000"/>
<rect x="1878" y="141" width="1" height="1135" fill="#000000"/>
<rect x="210" y="1275" width="49" height="1" fill="#000000"/>
<rect x="210" y="1251" width="25" height="1" fill="#000000"/>
<rect x="210" y="1230" width="25" height="1" fill="#000000"/>
<rect x="210" y="1206" width="25" height="1" fill="#000000"/>
<rect x="210" y="1185" width="25" height="1" fill="#000000"/>
<rect x="210" y="1161" width="49" height="1" fill="#000000"/>
<rect x="210" y="1137" width="25" height="1" fill="#000000"/>
<rect x="210" y="1116" width="25" height="1" fill="#000000"/>
<rect x="210" y="1092" width="25" height="1" fill="#000000"/>
<rect x="210" y="1071" width="25" height="1" fill="#000000"/>
<rect x="210" y="1047" width="49" height="1" fill="#000000"/>
<rect x="210" y="1026" width="25" height="1" fill="#000000"/>
<rect x="210" y="1002" width="25" height="1" fill="#000000"/>
<rect x="210" y="981" width="25" height="1" fill="#000000"/>
<rect x="210" y="957" width="25" height="1" fill="#000000"/>
<rect x="210" y="936" width="49" height="1" fill="#000000"/>
<rect x="210" y="912" width="25" height="1" fill="#000000"/>
<rect x="210" y="888" width="25" height="1" fill="#000000"/>
<rect x="210" y="867" width="25" height="1" fill="#000000"/>
<rect x="210" y="843" width="25" height="1" fill="#000000"/>
<rect x="210" y="822" width="49" height="1" fill="#000000"/>
<rect x="210" y="798" width="25" height="1" fill="#000000"/>
<rect x="210" y="777" width="25" height="1" fill="#000000"/>
<rect x="210" y="753" width="25" height="1" fill="#000000"/>
<rect x="210" y="732" width="25" height="1" fill="#000000"/>
<rect x="210" y="708" width="49" height="1" fill="#000000"/>
<rect x="210" y="684" width="25" height="1" fill="#000000"/>
<rect x="210" y="663" width="25" height="1" fill="#000000"/>
<rect x="210" y="639" width="25" height="1" fill="#000000"/>
<rect x="210" y="618" width="25" height="1" fill="#000000"/>
<rect x="210" y="594" width="49" height="1" fill="#000000"/>
<rect x="210" y="573" width="25" height="1" fill="#000000"/>
<rect x="210" y="549" width="25" height="1" fill="#000000"/>
<rect x="210" y="528" width="25" height="1" fill="#000000"/>
<rect x="210" y="504" width="25" height="1" fill="#000000"/>
<rect x="210" y="480" width="49" height="1" fill="#000000"/>
<rect x="210" y="459" width="25" height="1" fill="#000000"/>
<rect x="210" y="435" width="25" height="1" fill="#000000"/>
<rect x="210" y="414" width="25" height="1" fill="#000000"/>
<rect x="210" y="390" width="25" height="1" fill="#000000"/>
<rect x="210" y="369" width="49" height="1" fill="#000000"/>
<rect x="210" y="345" width="25" height="1" fill="#000000"/>
<rect x="210" y="324" width="25" height="1" fill="#000000"/>
<rect x="210" y="300" width="25" height="1" fill="#000000"/>
<rect x="210" y="279" width="25" height="1" fill="#000000"/>
<rect x="210" y="255" width="49" height="1" fill="#000000"/>
<rect x="210" y="231" width="25" height="1" fill="#000000"/>
<rect x="210" y="210" width="25" height="1" fill="#000000"/>
<rect x="210" y="186" width="25" height="1" fill="#000000"/>
<rect x="210" y="165" width="25" height="1" fill="#000000"/>
<rect x="210" y="141" width="49" height="1" fill="#000000"/>
<rect x="486" y="1239" width="1" height="37" fill="#000000"/>
<rect x="765" y="1239" width="1" height="37" fill="#000000"/>
<rect x="1044" y="1239" width="1" height="37" fill="#000000"/>
<rect x="1323" y="1239" width="1" height="37" fill="#000000"/>
<rect x="1602" y="1239" width="1" height="37" fill="#000000"/>
</g>
<g id="labels" style="will-change:transform">
<text transform="translate(200.5 1293.6) scale(1.0 1.035)" font-size="46" text-anchor="end">0</text>
<text transform="translate(200.5 1179.6) scale(1.0 1.035)" font-size="46" text-anchor="end">100</text>
<text transform="translate(200.5 1065.6) scale(1.0 1.035)" font-size="46" text-anchor="end">200</text>
<text transform="translate(200.5 954.6) scale(1.0 1.035)" font-size="46" text-anchor="end">300</text>
<text transform="translate(200.5 840.6) scale(1.0 1.035)" font-size="46" text-anchor="end">400</text>
<text transform="translate(200.5 726.6) scale(1.0 1.035)" font-size="46" text-anchor="end">500</text>
<text transform="translate(200.5 612.6) scale(1.0 1.035)" font-size="46" text-anchor="end">600</text>
<text transform="translate(200.5 498.6) scale(1.0 1.035)" font-size="46" text-anchor="end">700</text>
<text transform="translate(200.5 387.6) scale(1.0 1.035)" font-size="46" text-anchor="end">800</text>
<text transform="translate(200.5 273.6) scale(1.0 1.035)" font-size="46" text-anchor="end">900</text>
<text transform="translate(200.5 159.6) scale(1.0 1.035)" font-size="46" text-anchor="end">1000</text>
<text transform="translate(212.5 1320.85) scale(1.0 1.035)" font-size="46" text-anchor="middle">01/01/10</text>
<text transform="translate(488.5 1320.85) scale(1.0 1.035)" font-size="46" text-anchor="middle">02/03/10</text>
<text transform="translate(767.5 1320.85) scale(1.0 1.035)" font-size="46" text-anchor="middle">02/05/10</text>
<text transform="translate(1046.5 1320.85) scale(1.0 1.035)" font-size="46" text-anchor="middle">02/07/10</text>
<text transform="translate(1325.5 1320.85) scale(1.0 1.035)" font-size="46" text-anchor="middle">01/09/10</text>
<text transform="translate(1604.5 1320.85) scale(1.0 1.035)" font-size="46" text-anchor="middle">01/11/10</text>
<text transform="translate(1883.8 1320.85) scale(1.0 1.035)" font-size="46" text-anchor="middle">01/01/11</text>
<text transform="translate(1889.3 1368.1) scale(1.0 1.06)" font-size="46" text-anchor="end">Date [day/month/year]</text>
<text transform="translate(836.3 72) scale(1.0 1.05)" font-size="61.5" text-anchor="start">Machine</text>
<text transform="translate(1104.6 72) scale(1.0 1.05)" font-size="61.5" text-anchor="middle">A</text>
<text transform="translate(1215.3 72) scale(1.0 1.042)" font-size="62" text-anchor="middle">B</text>
<rect x="1145.9" y="54.3" width="28.199999999999818" height="4.4" fill="#000"/><rect x="1157.9" y="42.9" width="4.2" height="27.9" fill="#000"/>
</g>
<g id="legend">
<rect x="1629.5" y="93.5" width="417" height="339" fill="#ffffff" stroke="#000000" stroke-width="1" shape-rendering="crispEdges"/>
<rect x="1644.5" y="117.5" width="72" height="120" fill="#ffff00" stroke="#000099" stroke-width="1" shape-rendering="crispEdges"/>
<rect x="1644.5" y="288.5" width="72" height="117" fill="#00ff00" stroke="#ff0000" stroke-width="1" shape-rendering="crispEdges"/>
</g>
<g id="legendtext" style="will-change:transform">
<text transform="translate(1733.4 192) scale(1.0 1.05)" font-size="33" text-anchor="start">Machine</text>
<text transform="translate(1878.75 192) scale(1.0 1.05)" font-size="33" text-anchor="middle">A</text>
<text transform="translate(1939.0 192) scale(1.0 1.05)" font-size="33" text-anchor="middle">B</text>
<rect x="1900.9" y="182.3" width="15.099999999999909" height="2.4" fill="#000"/><rect x="1907.25" y="176.2" width="2.5" height="14.800000000000011" fill="#000"/>
<text transform="translate(1733.4 363) scale(1.0 1.05)" font-size="33" text-anchor="start">Machine</text>
<text transform="translate(1879.2 363) scale(1.0 1.05)" font-size="33" text-anchor="middle">B</text>
</g>
</svg>
</body></html>
